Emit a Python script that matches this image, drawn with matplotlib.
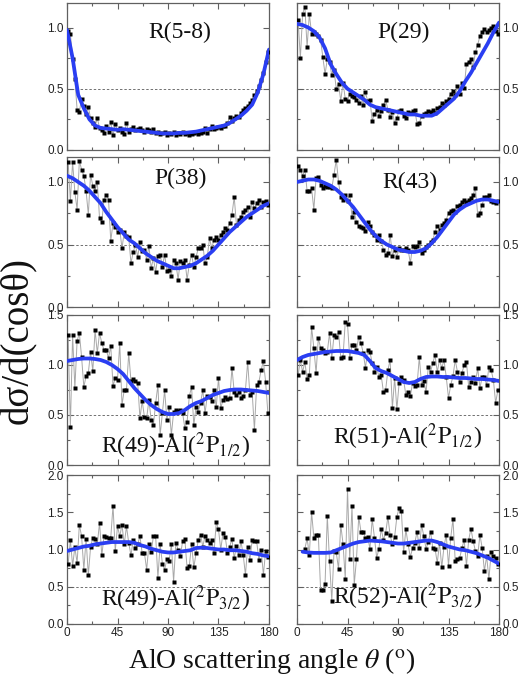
import numpy as np
import matplotlib
matplotlib.use("Agg")
import matplotlib.pyplot as plt
from matplotlib.ticker import MultipleLocator

plt.rcParams['mathtext.fontset'] = 'stix'
plt.rcParams['font.family'] = ['Liberation Sans', 'DejaVu Sans']

# ---------------- data ----------------
ANGLES = np.arange(1, 180, 2)          # data points, degrees
ANGLES_R52 = np.arange(7, 180, 2)
SMOOTH_ANGLES = np.arange(0, 181, 5)   # fitted curve grid

titles = ['R(5-8)', 'P(29)', 'P(38)', 'R(43)',
          r'R(49)-Al($^{2}\mathrm{P}_{1/2}$)', r'R(51)-Al($^{2}\mathrm{P}_{1/2}$)',
          r'R(49)-Al($^{2}\mathrm{P}_{3/2}$)', r'R(52)-Al($^{2}\mathrm{P}_{3/2}$)']

pts_R5_8 = [0.97, 0.95, 0.74, 0.58, 0.33, 0.31, 0.42, 0.36, 0.29, 0.35,
            0.26, 0.22, 0.19, 0.26, 0.18, 0.16, 0.14, 0.20, 0.15, 0.23,
            0.12, 0.21, 0.16, 0.18, 0.15, 0.13, 0.22, 0.15, 0.17, 0.19,
            0.16, 0.17, 0.18, 0.16, 0.15, 0.17, 0.16, 0.15, 0.17, 0.14,
            0.15, 0.13, 0.14, 0.15, 0.12, 0.14, 0.13, 0.15, 0.12, 0.14,
            0.13, 0.15, 0.13, 0.14, 0.12, 0.13, 0.14, 0.15, 0.13, 0.14,
            0.15, 0.18, 0.14, 0.17, 0.20, 0.17, 0.18, 0.19, 0.18, 0.20,
            0.20, 0.22, 0.27, 0.24, 0.26, 0.28, 0.27, 0.30, 0.33, 0.34,
            0.36, 0.38, 0.41, 0.45, 0.48, 0.52, 0.57, 0.63, 0.72, 0.80]
fit_R5_8 = [0.98, 0.75, 0.45, 0.34, 0.25, 0.20, 0.18, 0.175, 0.17, 0.165,
            0.17, 0.165, 0.16, 0.155, 0.15, 0.145, 0.14, 0.135, 0.135, 0.135,
            0.14, 0.14, 0.145, 0.15, 0.16, 0.17, 0.18, 0.19, 0.20, 0.22,
            0.25, 0.28, 0.32, 0.37, 0.47, 0.62, 0.82]

pts_P29 = [1.06, 0.75, 1.11, 1.17, 0.84, 1.11, 0.95, 0.96, 0.95, 0.93,
           0.90, 0.76, 0.62, 0.74, 0.72, 0.61, 0.65, 0.50, 0.54, 0.40,
           0.55, 0.42, 0.40, 0.46, 0.44, 0.43, 0.41, 0.38, 0.44, 0.37,
           0.47, 0.40, 0.41, 0.24, 0.29, 0.33, 0.28, 0.32, 0.37, 0.41,
           0.33, 0.27, 0.31, 0.22, 0.26, 0.32, 0.33, 0.28, 0.26, 0.31,
           0.30, 0.32, 0.33, 0.21, 0.22, 0.28, 0.29, 0.30, 0.32, 0.31,
           0.33, 0.30, 0.34, 0.35, 0.38, 0.37, 0.40, 0.42, 0.46, 0.48,
           0.45, 0.52, 0.46, 0.55, 0.51, 0.70, 0.72, 0.74, 0.68, 0.80,
           0.86, 0.93, 0.96, 0.99, 0.96, 0.98, 1.00, 1.01, 0.97, 0.95]
fit_P29 = [1.03, 1.02, 1.00, 0.97, 0.92, 0.83, 0.70, 0.62, 0.55, 0.50,
           0.47, 0.44, 0.41, 0.37, 0.35, 0.34, 0.33, 0.32, 0.31, 0.30,
           0.29, 0.29, 0.28, 0.28, 0.28, 0.30, 0.34, 0.38, 0.42, 0.48,
           0.56, 0.63, 0.71, 0.79, 0.87, 0.96, 1.04]

pts_P38 = [1.16, 0.85, 1.16, 0.92, 0.78, 1.17, 1.10, 1.05, 0.93, 0.74,
           1.06, 0.97, 0.93, 1.00, 0.71, 0.68, 0.86, 0.90, 0.86, 0.53,
           0.67, 0.64, 0.60, 0.62, 0.47, 0.60, 0.57, 0.56, 0.35, 0.44,
           0.50, 0.40, 0.52, 0.45, 0.46, 0.38, 0.49, 0.31, 0.39, 0.28,
           0.41, 0.42, 0.32, 0.42, 0.29, 0.30, 0.25, 0.38, 0.35, 0.22,
           0.37, 0.35, 0.38, 0.22, 0.34, 0.42, 0.32, 0.40, 0.47, 0.47,
           0.50, 0.35, 0.40, 0.55, 0.47, 0.54, 0.56, 0.54, 0.58, 0.60,
           0.63, 0.62, 0.67, 0.74, 0.88, 0.66, 0.70, 0.72, 0.76, 0.78,
           0.80, 0.72, 0.84, 0.79, 0.83, 0.86, 0.80, 0.84, 0.85, 0.82]
fit_P38 = [1.05, 1.03, 1.00, 0.97, 0.93, 0.88, 0.83, 0.76, 0.70, 0.64,
           0.59, 0.54, 0.51, 0.47, 0.43, 0.40, 0.37, 0.35, 0.33, 0.31,
           0.31, 0.32, 0.33, 0.35, 0.38, 0.41, 0.45, 0.50, 0.55, 0.60,
           0.64, 0.68, 0.72, 0.75, 0.78, 0.81, 0.83]

pts_R43 = [1.13, 1.10, 1.05, 1.10, 0.93, 0.93, 0.95, 0.78, 1.03, 1.04,
           0.98, 0.95, 0.97, 0.96, 0.96, 0.95, 1.06, 1.18, 1.00, 0.88,
           0.86, 0.90, 0.85, 0.90, 0.72, 0.76, 0.68, 0.65, 0.64, 0.63,
           0.61, 0.68, 0.65, 0.60, 0.58, 0.54, 0.58, 0.53, 0.46, 0.42,
           0.43, 0.58, 0.41, 0.46, 0.40, 0.47, 0.46, 0.46, 0.47, 0.46,
           0.35, 0.49, 0.48, 0.49, 0.52, 0.43, 0.46, 0.48, 0.50, 0.52,
           0.54, 0.60, 0.65, 0.62, 0.66, 0.67, 0.70, 0.75, 0.77, 0.78,
           0.76, 0.81, 0.82, 0.84, 0.86, 0.84, 0.86, 0.87, 0.90, 0.95,
           0.74, 0.75, 0.82, 0.88, 0.88, 0.90, 0.85, 0.84, 0.83, 0.85]
fit_R43 = [1.00, 1.01, 1.02, 1.02, 1.01, 0.99, 0.97, 0.94, 0.90, 0.85,
           0.80, 0.74, 0.68, 0.62, 0.57, 0.53, 0.50, 0.48, 0.46, 0.45,
           0.44, 0.44, 0.45, 0.47, 0.51, 0.56, 0.62, 0.68, 0.74, 0.78,
           0.81, 0.83, 0.85, 0.86, 0.86, 0.85, 0.84]

pts_R49a = [1.30, 0.38, 1.30, 0.77, 1.24, 1.32, 1.08, 0.78, 0.89, 0.92,
            1.13, 0.94, 1.35, 1.12, 1.32, 1.22, 1.15, 1.15, 1.07, 1.19,
            0.79, 0.87, 0.85, 1.22, 0.60, 0.75, 0.75, 1.12, 0.84, 0.86,
            0.84, 0.82, 0.47, 0.64, 0.48, 0.47, 0.65, 0.45, 0.40, 0.62,
            0.80, 0.30, 0.52, 0.75, 0.45, 0.58, 0.30, 0.53, 0.55, 0.54,
            0.55, 0.52, 0.37, 0.43, 0.69, 0.78, 0.40, 0.58, 0.53, 0.62,
            0.75, 0.52, 0.69, 0.68, 0.64, 0.75, 0.58, 0.87, 0.57, 0.65,
            0.68, 0.66, 0.67, 0.97, 0.73, 0.70, 0.73, 0.67, 0.69, 0.75,
            1.03, 0.70, 0.73, 0.35, 0.80, 0.83, 0.95, 1.04, 0.83, 0.52]
fit_R49a = [1.04, 1.05, 1.06, 1.065, 1.065, 1.06, 1.05, 1.03, 1.00, 0.96,
            0.91, 0.84, 0.77, 0.71, 0.65, 0.60, 0.56, 0.53, 0.51, 0.51,
            0.52, 0.55, 0.59, 0.62, 0.64, 0.67, 0.70, 0.72, 0.74, 0.75,
            0.755, 0.755, 0.75, 0.745, 0.74, 0.73, 0.72]

pts_R51 = [0.90, 1.05, 0.93, 1.03, 0.86, 0.90, 1.38, 1.17, 0.92, 1.27,
           1.17, 1.15, 1.12, 1.13, 1.32, 1.07, 1.30, 1.28, 1.33, 1.07,
           1.08, 1.43, 1.41, 1.07, 1.20, 1.20, 1.15, 1.28, 1.22, 1.12,
           0.97, 1.15, 1.13, 1.02, 0.93, 0.98, 0.88, 0.90, 0.73, 0.75,
           0.95, 1.05, 0.57, 0.87, 0.56, 0.82, 0.88, 0.85, 0.70, 0.73,
           0.69, 0.82, 0.79, 0.80, 1.08, 0.80, 0.84, 0.73, 0.98, 0.93,
           1.02, 1.10, 0.93, 1.05, 0.97, 1.05, 0.88, 0.67, 0.80, 0.89,
           1.05, 0.93, 0.83, 0.92, 1.00, 1.03, 0.78, 0.83, 0.88, 0.82,
           0.97, 0.77, 0.88, 0.88, 0.80, 0.98, 0.95, 0.85, 0.62, 0.75]
fit_R51 = [1.05, 1.08, 1.10, 1.11, 1.12, 1.13, 1.135, 1.14, 1.14, 1.14,
           1.13, 1.12, 1.10, 1.04, 0.97, 0.94, 0.92, 0.89, 0.86, 0.83,
           0.82, 0.83, 0.86, 0.88, 0.885, 0.885, 0.88, 0.88, 0.875, 0.87,
           0.87, 0.865, 0.86, 0.86, 0.855, 0.85, 0.84]

pts_R49b = [0.80, 1.13, 0.78, 1.03, 0.82, 1.33, 1.18, 0.73, 1.14, 0.66,
            1.03, 1.16, 1.14, 1.07, 1.36, 0.92, 1.18, 1.17, 1.16, 1.16,
            1.59, 0.98, 1.31, 1.18, 1.33, 1.07, 1.31, 1.09, 0.92, 1.13,
            1.02, 1.07, 1.18, 0.95, 0.95, 0.73, 1.07, 0.96, 1.18, 1.18,
            0.62, 1.07, 0.81, 0.73, 0.87, 0.84, 1.07, 0.57, 1.09, 1.00,
            0.91, 1.11, 1.14, 0.75, 0.78, 1.07, 0.76, 0.95, 1.13, 1.20,
            1.04, 1.18, 1.13, 1.09, 1.13, 0.95, 1.37, 1.27, 1.00, 1.22,
            1.17, 0.95, 1.04, 1.14, 0.88, 1.05, 0.93, 1.11, 0.93, 0.66,
            1.04, 0.86, 1.13, 1.11, 1.11, 0.86, 1.00, 0.66, 0.98, 0.90]
fit_R49b = [0.98, 1.00, 1.02, 1.04, 1.05, 1.07, 1.08, 1.09, 1.10, 1.10,
            1.10, 1.10, 1.09, 1.06, 1.04, 1.01, 0.99, 0.97, 0.96, 0.96,
            0.97, 0.98, 0.99, 1.02, 1.025, 1.02, 1.01, 1.00, 1.00, 0.99,
            0.99, 0.98, 0.97, 0.95, 0.94, 0.92, 0.91]

pts_R52 = [1.01, 1.15, 0.93, 1.50, 1.16, 1.19, 1.20, 0.46, 0.46, 0.54,
           1.45, 0.84, 0.31, 0.98, 0.96, 0.74, 1.33, 1.08, 0.61, 1.81,
           0.87, 1.58, 0.53, 0.87, 1.44, 1.24, 1.24, 1.16, 1.17, 1.01,
           1.41, 1.16, 0.89, 1.01, 1.28, 1.13, 1.22, 1.44, 1.19, 1.07,
           1.17, 1.44, 1.56, 1.52, 0.96, 1.27, 1.07, 0.90, 1.02, 1.09,
           1.24, 1.02, 1.33, 1.18, 1.01, 1.10, 1.24, 1.02, 1.01, 0.82,
           1.09, 0.76, 1.04, 1.20, 0.78, 1.16, 1.41, 0.84, 0.87, 0.89,
           1.02, 1.13, 0.78, 1.13, 1.28, 1.11, 0.98, 0.91, 1.20, 1.02,
           0.71, 0.91, 0.60, 0.96, 0.91, 0.89, 0.80]
fit_R52 = [0.98, 0.97, 0.96, 0.955, 0.955, 0.955, 0.96, 0.99, 1.02, 1.05,
           1.08, 1.10, 1.11, 1.12, 1.115, 1.11, 1.10, 1.09, 1.08, 1.08,
           1.09, 1.10, 1.11, 1.12, 1.12, 1.10, 1.07, 1.04, 1.02, 1.00,
           0.99, 0.97, 0.95, 0.92, 0.89, 0.85, 0.81]

panels = [
    (ANGLES, pts_R5_8, SMOOTH_ANGLES, fit_R5_8),
    (ANGLES, pts_P29, SMOOTH_ANGLES, fit_P29),
    (ANGLES, pts_P38, SMOOTH_ANGLES, fit_P38),
    (ANGLES, pts_R43, SMOOTH_ANGLES, fit_R43),
    (ANGLES, pts_R49a, SMOOTH_ANGLES, fit_R49a),
    (ANGLES, pts_R51, SMOOTH_ANGLES, fit_R51),
    (ANGLES, pts_R49b, SMOOTH_ANGLES, fit_R49b),
    (ANGLES_R52, pts_R52, SMOOTH_ANGLES[1:], fit_R52[1:]),
]
row_ymax = [1.2, 1.2, 1.5, 2.0]

# ---------------- layout ----------------
W, H = 520, 677
fig = plt.figure(figsize=(W / 100, H / 100), dpi=100)
col_x = [67, 297]
col_w = 202
row_px = [(3, 150), (157, 307), (315, 465), (475, 624)]
title_pos = [(0.56, 0.80), (0.525, 0.80), (0.56, 0.86), (0.56, 0.83),
             (0.535, 0.13), (0.545, 0.19), (0.535, 0.17), (0.545, 0.18)]

serif = ['Liberation Serif', 'DejaVu Serif']
spine_col = '#606060'

for i, (xa, ya, xf, yf) in enumerate(panels):
    r, c = divmod(i, 2)
    top, bot = row_px[r]
    ax = fig.add_axes([col_x[c] / W, 1 - bot / H, col_w / W, (bot - top) / H])
    ax.axhline(0.5, color='#707070', lw=0.7, ls=(0, (2.5, 2)), zorder=1)
    ax.plot(xa, ya, '-', color='#a8a8a8', lw=0.7, zorder=2)
    ax.plot(xa, ya, 's', color='black', ms=3.0, mec='none', zorder=3)
    ax.plot(xf, yf, '-', color='#2a3ef2', lw=2.7, solid_capstyle='round', zorder=4)
    ax.set_xlim(0, 180)
    ax.set_ylim(0, row_ymax[r])
    ax.xaxis.set_major_locator(MultipleLocator(45))
    ax.xaxis.set_minor_locator(MultipleLocator(22.5))
    ax.yaxis.set_major_locator(MultipleLocator(0.5))
    ax.yaxis.set_minor_locator(MultipleLocator(0.25))
    ax.yaxis.set_major_formatter(matplotlib.ticker.FormatStrFormatter('%.1f'))
    for s in ax.spines.values():
        s.set_color(spine_col)
        s.set_linewidth(0.9)
    ax.tick_params(which='both', direction='in', top=True, bottom=True,
                   left=True, right=True, color=spine_col, width=0.8,
                   labelsize=8.5, labelcolor='#222222', pad=2.5)
    ax.tick_params(which='major', length=4)
    ax.tick_params(which='minor', length=2.5)
    if c == 1:
        ax.tick_params(labelleft=False, labelright=True)
    if r < 3:
        ax.tick_params(labelbottom=False)
    tx, ty = title_pos[i]
    ax.text(tx, ty, titles[i], transform=ax.transAxes, ha='center', va='center',
            fontsize=17, family=serif, color='#111111', zorder=5)

fig.text(0.036, 0.497, 'dσ/d(cosθ)', rotation=90, ha='center',
         va='center', fontsize=28, family=serif, color='#111111')
fig.text(0.523, 0.024, r'AlO scattering angle $\theta$ ($^{\mathrm{o}}$)',
         ha='center', va='center', fontsize=20, family=serif, color='#111111')

fig.savefig('out.png', dpi=100)
